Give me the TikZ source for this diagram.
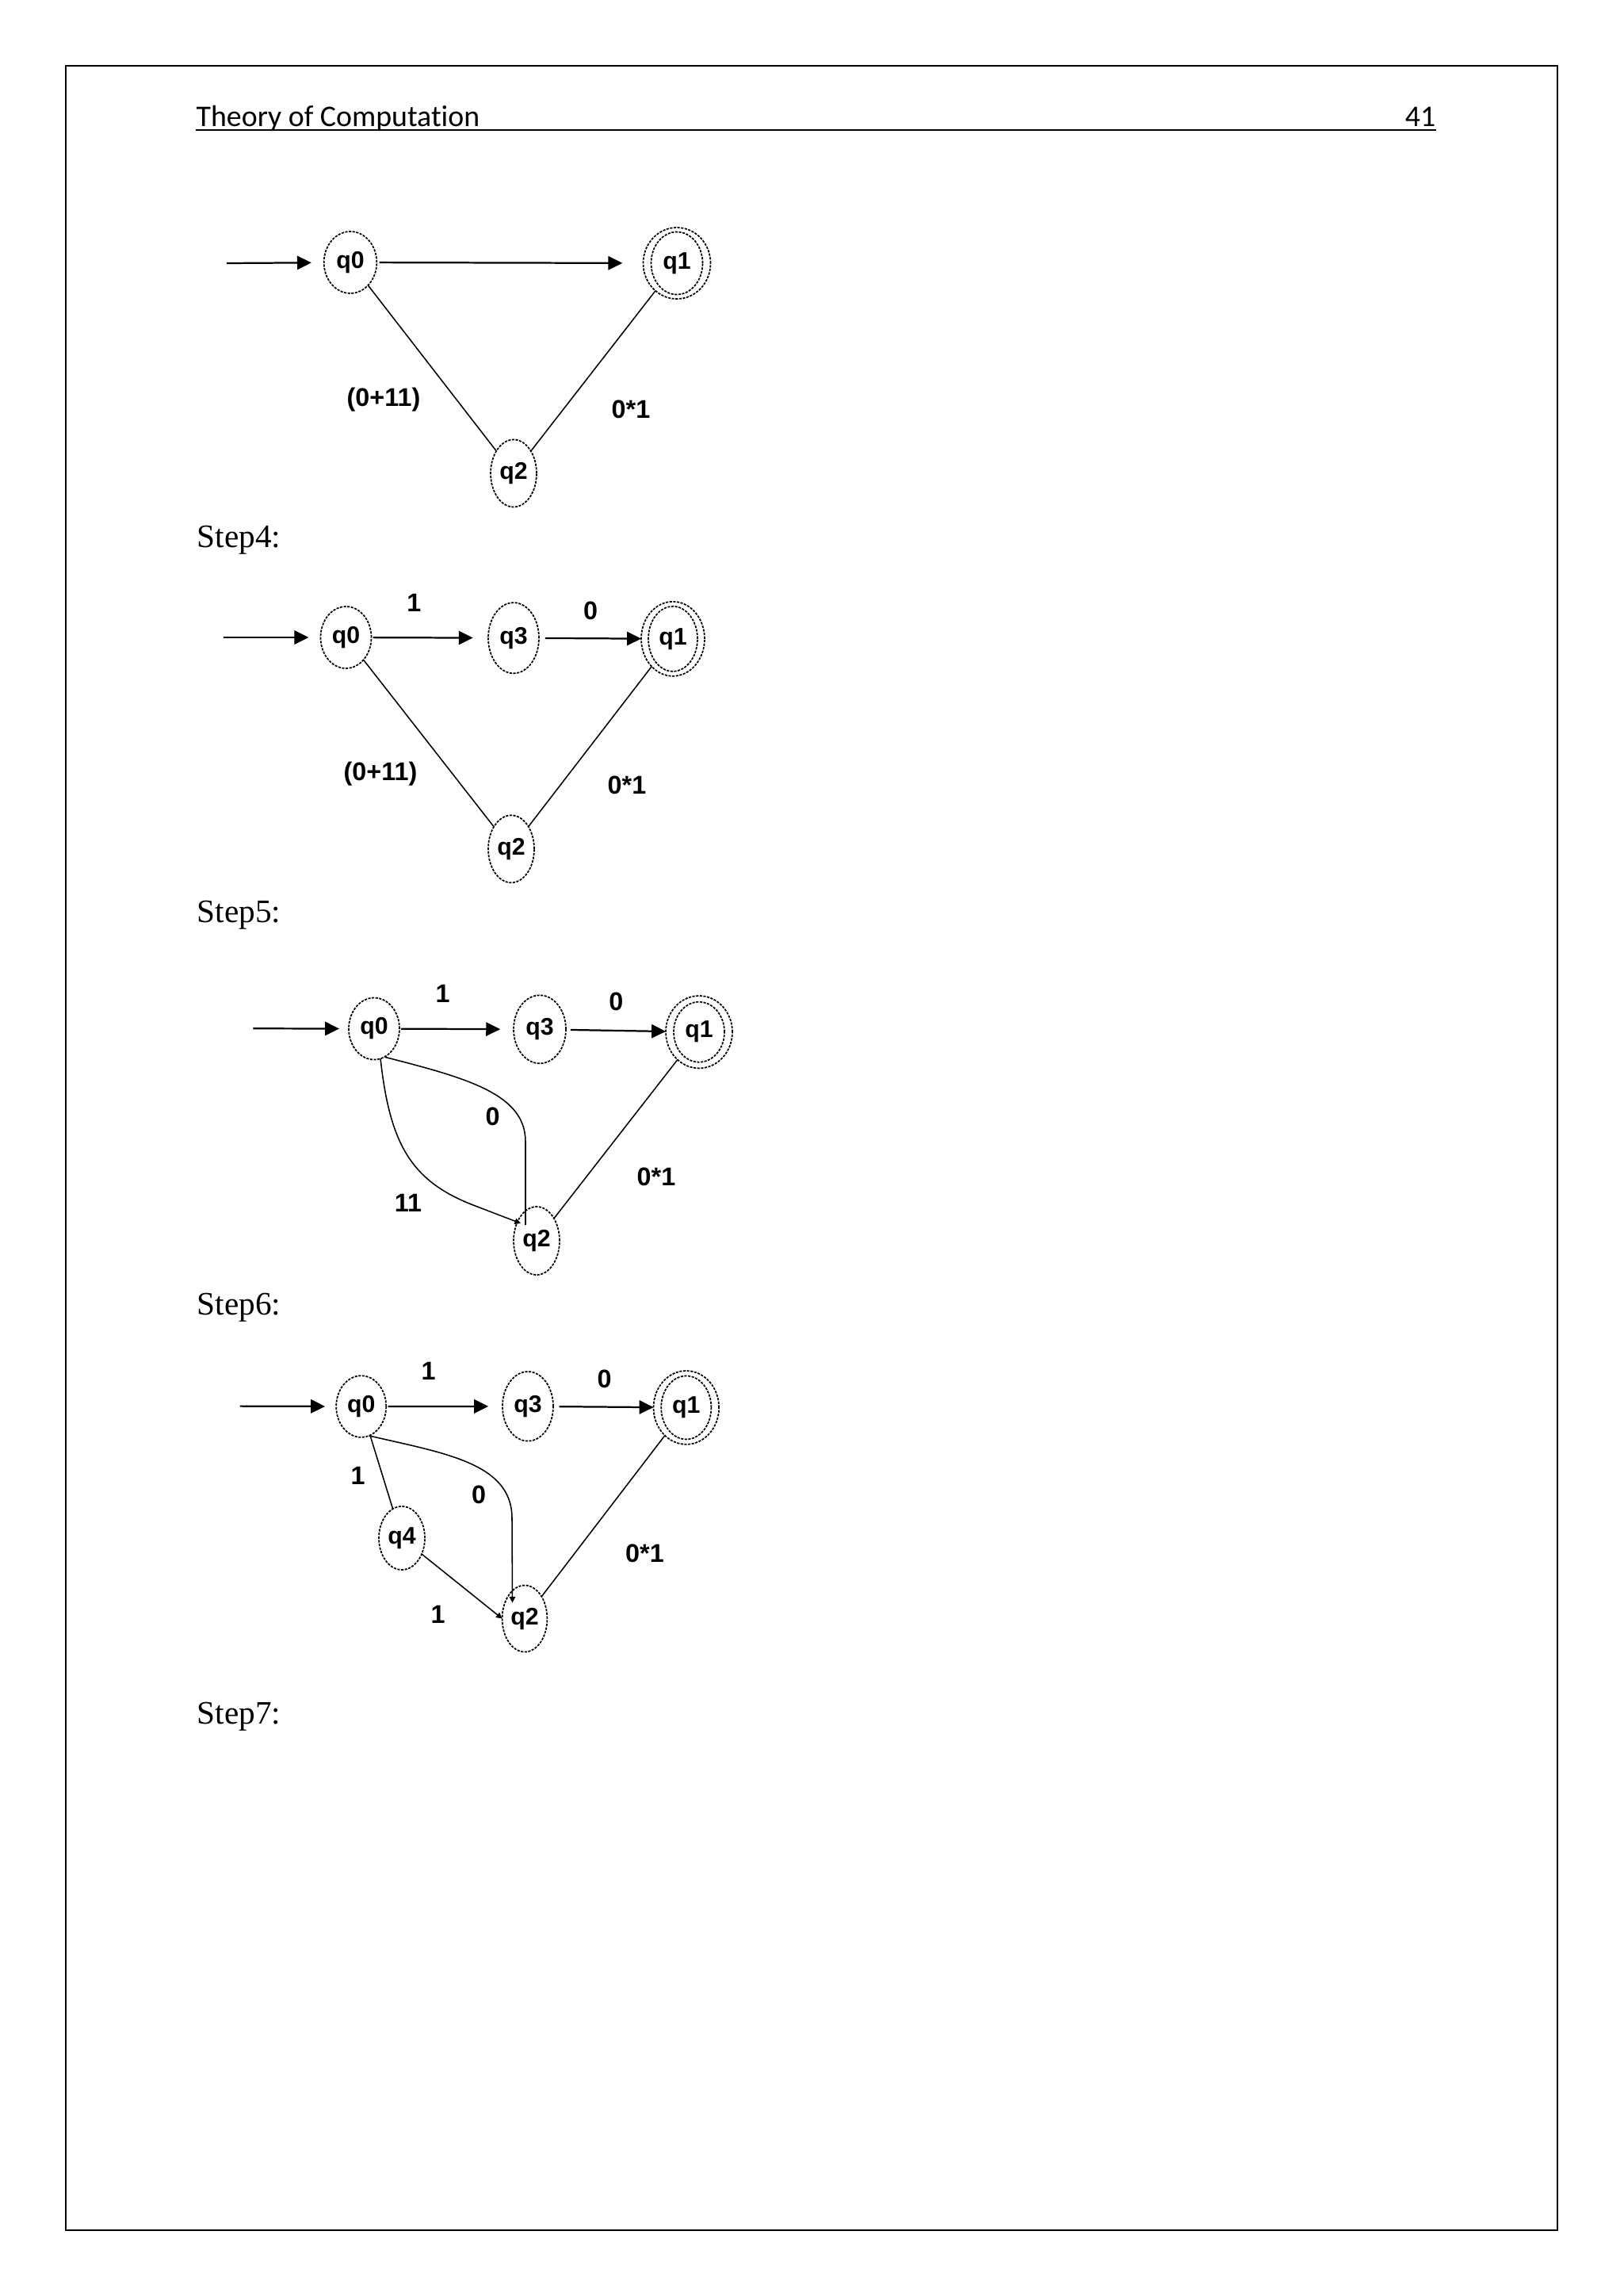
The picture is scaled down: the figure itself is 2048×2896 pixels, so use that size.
\documentclass[tikz,border=0pt]{standalone}
\usepackage{fontspec}
\setmainfont{Liberation Serif}
\newfontfamily\hdrfont[Ligatures=NoCommon]{Carlito}
\newfontfamily\dfont{Liberation Sans}
\usetikzlibrary{shapes.geometric,arrows.meta}
\begin{document}
\begin{tikzpicture}[x=0.29067pt,y=-0.29067pt,
  state/.style n args={2}{ellipse, draw, dash pattern=on 0.9pt off 0.45pt, line width=0.5pt,
    inner sep=0pt, outer sep=0pt, minimum width=#1*0.58134pt, minimum height=#2*0.58134pt,
    font=\dfont\bfseries\fontsize{8.8}{10}\selectfont},
  ring/.style n args={2}{ellipse, draw, dash pattern=on 0.9pt off 0.45pt, line width=0.5pt,
    inner sep=0pt, outer sep=0pt, minimum width=#1*0.58134pt, minimum height=#2*0.58134pt},
  arr/.style={-{Triangle[length=5.2pt,width=5pt]}, line width=0.65pt},
  edge/.style={line width=0.45pt},
  tinyarr/.style={-{Triangle[length=2.2pt,width=2.2pt]}, line width=0.45pt},
  lbl/.style={font=\dfont\bfseries\fontsize{9.4}{11}\selectfont, inner sep=0pt},
  steplbl/.style={font=\fontsize{12}{14}\selectfont, inner sep=0pt, anchor=base west},
  hdr/.style={font=\hdrfont\fontsize{11}{13}\selectfont, inner sep=0pt}
]
\useasboundingbox (0,0) rectangle (2048,2896);
\fill[white] (0,0) rectangle (2048,2896);
\draw[line width=0.6pt] (83,83) rectangle (1965,2813);

% header
\node[hdr, anchor=base west] (title) at (247,159) {Theory of Computation};
\node[hdr, anchor=base east] (pageno) at (1812,159) {41};
\draw[line width=0.8pt] (247,164) -- (1812,164);

% ---------- diagram 1 ----------
\node[state={33.3}{39}] (a0) at (442,331) {q0};
\node[state={32.5}{39.5}] (a1) at (854,332) {q1};
\node[ring={42.5}{45}] (a1o) at (a1) {};
\node[state={29}{42.5}] (a2) at (648,597) {q2};
\coordinate (as) at (286,332);
\draw[arr, shorten >=4.6pt] (as) -- (a0);
\draw[arr, shorten <=1pt, shorten >=7.6pt] (a0) -- (a1o);
\draw[edge] (a0) -- (a2);
\draw[edge] (a1o) -- (a2);
\node[lbl] (la1) at (484,504) {(0+11)};
\node[lbl] (la2) at (796,516) {0*1};

% ---------- Step4 ----------
\node[steplbl] (s4) at (248,690) {Step4:};
\node[state={32}{39}] (b0) at (436.5,804) {q0};
\node[state={32}{44.6}] (b3) at (648,804.7) {q3};
\node[state={31}{41}] (b1) at (849,805.8) {q1};
\node[ring={40}{47}] (b1o) at (b1) {};
\node[state={29}{42.5}] (b2) at (645,1070.8) {q2};
\coordinate (bs) at (281.7,804);
\draw[arr, shorten >=4.4pt] (bs) -- (b0);
\draw[arr, shorten <=0.6pt, shorten >=5.6pt] (b0) -- (b3);
\draw[arr, shorten <=2.3pt] (b3) -- (b1o);
\draw[edge] (b0) -- (b2);
\draw[edge] (b1o) -- (b2);
\node[lbl] (lb1) at (522.4,760.7) {1};
\node[lbl] (lb2) at (745,770) {0};
\node[lbl] (lb3) at (480,976) {(0+11)};
\node[lbl] (lb4) at (791,990) {0*1};

% ---------- Step5 ----------
\node[steplbl] (s5) at (248,1163.5) {Step5:};
\node[state={32}{39}] (c0) at (472,1297.5) {q0};
\node[state={33}{43}] (c3) at (681,1298.3) {q3};
\node[state={32}{38}] (c1) at (882,1301.7) {q1};
\node[ring={42}{45.7}] (c1o) at (c1) {};
\node[state={29}{43}] (c2) at (677,1565) {q2};
\coordinate (ce) at ([shift={(-20,-22)}]c2.center);
\coordinate (cf) at ([shift={(-14,-20)}]c2.center);
\coordinate (cs) at (319.4,1297.3);
\draw[arr, shorten >=3.5pt] (cs) -- (c0);
\draw[arr, shorten <=0.6pt, shorten >=4.9pt] (c0) -- (c3);
\draw[arr, shorten <=1.7pt] (c3) -- (c1o);
\draw[edge] (c0.-70) .. controls (590,1360) and (663,1380) .. (663,1440) -- (cf);
\draw[tinyarr] (c0.-78) .. controls (492,1445) and (520,1490) .. (597,1520) -- (ce);
\draw[edge] (c1o) -- (c2);
\node[lbl] (lc1) at (558.5,1253.3) {1};
\node[lbl] (lc2) at (777.3,1263.3) {0};
\node[lbl] (lc3) at (621.5,1408) {0};
\node[lbl] (lc4) at (515,1517) {11};
\node[lbl] (lc5) at (828,1484) {0*1};

% ---------- Step6 ----------
\node[steplbl] (s6) at (248,1658) {Step6:};
\node[state={31.5}{38.8}] (d0) at (455.7,1774) {q0};
\node[state={32}{43.8}] (d3) at (666,1773.8) {q3};
\node[state={31.6}{40}] (d1) at (865.8,1775.4) {q1};
\node[ring={41.3}{46.4}] (d1o) at (d1) {};
\node[state={29}{40}] (d4) at (507,1940) {q4};
\node[state={28.4}{42}] (d2) at (662,2041.6) {q2};
\coordinate (ds) at (302.8,1773.6);
\coordinate (de) at ([shift={(-15.5,-20)}]d2.center);
\draw[arr, shorten >=4.1pt] (ds) -- (d0);
\draw[arr, shorten <=0.7pt, shorten >=5.2pt] (d0) -- (d3);
\draw[arr, shorten <=2.2pt] (d3) -- (d1o);
\draw[edge] (d0) -- (d4);
\draw[tinyarr] (d0.-75) .. controls (560,1833) and (646,1845) .. (646,1915) -- (de);
\draw[tinyarr] (d4) -- (d2.west);
\draw[edge] (d1o) -- (d2);
\node[lbl] (ld1) at (540.7,1729) {1};
\node[lbl] (ld2) at (762.5,1739) {0};
\node[lbl] (ld3) at (451.7,1861) {1};
\node[lbl] (ld4) at (604,1885) {0};
\node[lbl] (ld5) at (552.5,2036) {1};
\node[lbl] (ld6) at (813.5,1959) {0*1};

% ---------- Step7 ----------
\node[steplbl] (s7) at (248,2174) {Step7:};
\end{tikzpicture}
\end{document}
